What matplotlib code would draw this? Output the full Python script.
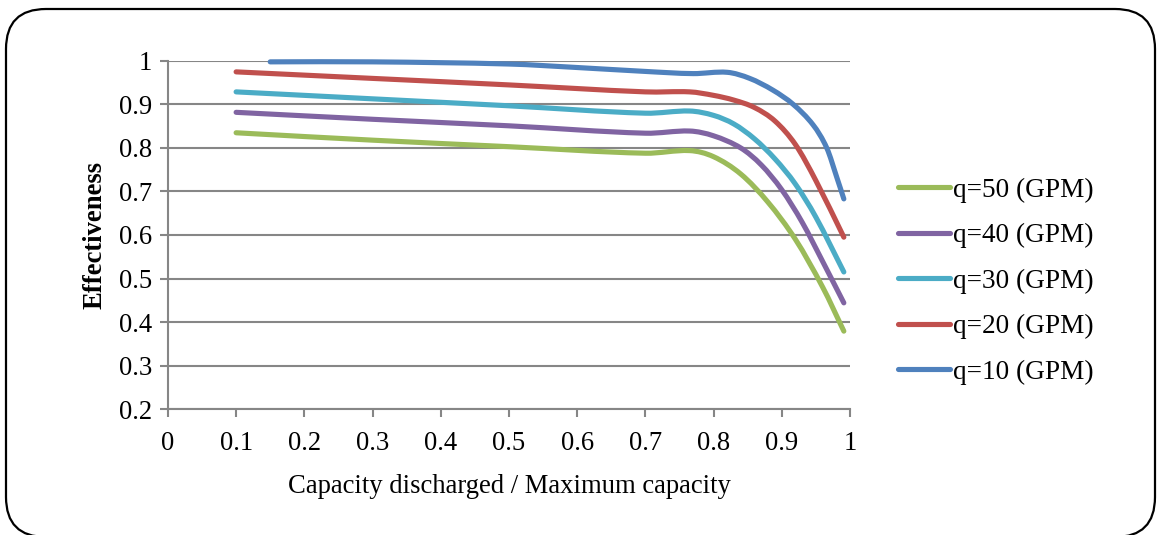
import numpy as np
import matplotlib
matplotlib.use("Agg")
import matplotlib.pyplot as plt
from matplotlib.path import Path
from matplotlib.patches import PathPatch, FancyBboxPatch
from matplotlib.lines import Line2D

# values
x50 = [0.1, 0.3, 0.5, 0.7, 0.765, 0.8, 0.84, 0.88, 0.92, 0.96, 0.991]
q50 = [0.835, 0.818, 0.803, 0.788, 0.794, 0.78, 0.74, 0.675, 0.59, 0.48, 0.379]
x40 = [0.1, 0.3, 0.5, 0.7, 0.765, 0.8, 0.84, 0.87, 0.9, 0.93, 0.96, 0.991]
q40 = [0.882, 0.866, 0.851, 0.834, 0.839, 0.828, 0.80, 0.761, 0.704, 0.629, 0.539, 0.444]
x30 = [0.1, 0.3, 0.5, 0.7, 0.765, 0.8, 0.83, 0.86, 0.89, 0.92, 0.95, 0.991]
q30 = [0.929, 0.913, 0.897, 0.88, 0.885, 0.875, 0.855, 0.821, 0.775, 0.717, 0.641, 0.515]
x20 = [0.1, 0.3, 0.5, 0.7, 0.765, 0.8, 0.83, 0.86, 0.89, 0.92, 0.95, 0.991]
q20 = [0.975, 0.96, 0.945, 0.929, 0.929, 0.921, 0.91, 0.893, 0.862, 0.808, 0.725, 0.595]
x10 = [0.15, 0.3, 0.5, 0.6, 0.7, 0.77, 0.82, 0.853, 0.887, 0.917, 0.946, 0.966, 0.981, 0.991]
q10 = [0.998, 0.998, 0.993, 0.985, 0.976, 0.971, 0.974, 0.960, 0.933, 0.9, 0.853, 0.8, 0.731, 0.683]

labels = ["q=50 (GPM)", "q=40 (GPM)", "q=30 (GPM)", "q=20 (GPM)", "q=10 (GPM)"]
colors = ["#9BBB59", "#8064A2", "#4BACC6", "#C0504D", "#4F81BD"]
series = [(x50, q50), (x40, q40), (x30, q30), (x20, q20), (x10, q10)]

plt.rcParams['font.family'] = ['Liberation Serif', 'DejaVu Serif']
plt.rcParams['font.size'] = 19.2


def smooth_path(xs, ys):
    # smoothed line like excel: cubic bezier segments through the points
    xs = np.asarray(xs, float)
    ys = np.asarray(ys, float)
    n = len(xs)
    m = np.empty(n)
    m[0] = (ys[1] - ys[0]) / (xs[1] - xs[0])
    m[-1] = (ys[-1] - ys[-2]) / (xs[-1] - xs[-2])
    m[1:-1] = (ys[2:] - ys[:-2]) / (xs[2:] - xs[:-2])
    verts = [(xs[0], ys[0])]
    codes = [Path.MOVETO]
    for i in range(n - 1):
        h = (xs[i + 1] - xs[i]) / 3
        verts += [(xs[i] + h, ys[i] + m[i] * h),
                  (xs[i + 1] - h, ys[i + 1] - m[i + 1] * h),
                  (xs[i + 1], ys[i + 1])]
        codes += [Path.CURVE4] * 3
    return Path(verts, codes)


fig = plt.figure(figsize=(11.58, 5.35), dpi=100)
ax = fig.add_axes([0.145, 0.2355, 0.589, 0.6505])

for (xs, ys), c in zip(series, colors):
    ax.add_patch(PathPatch(smooth_path(xs, ys), fill=False, ec=c, lw=3.7,
                           capstyle='round', joinstyle='round', clip_on=False))

ax.set_xlim(0, 1)
ax.set_ylim(0.2, 1)
ax.set_xticks(np.arange(0, 1.01, 0.1))
ax.set_yticks(np.arange(0.2, 1.01, 0.1))
ax.set_xticklabels(["0", "0.1", "0.2", "0.3", "0.4", "0.5", "0.6", "0.7", "0.8", "0.9", "1"])
ax.set_yticklabels(["0.2", "0.3", "0.4", "0.5", "0.6", "0.7", "0.8", "0.9", "1"])
ax.grid(axis='y', color='#868686', lw=1.5)
ax.set_axisbelow(True)
for s in ['top', 'right']:
    ax.spines[s].set_visible(False)
for s in ['left', 'bottom']:
    ax.spines[s].set_color('#868686')
    ax.spines[s].set_linewidth(1.5)
ax.tick_params(axis='both', color='#868686', width=1.5, length=5.5)
ax.tick_params(axis='x', pad=10)
ax.tick_params(axis='y', pad=6)

ax.set_xlabel("Capacity discharged / Maximum capacity", labelpad=13)
ax.set_ylabel("Effectiveness", fontweight='bold', labelpad=8)

handles = [Line2D([], [], color=c, lw=3.7, solid_capstyle='round') for c in colors]
fig.legend(handles, labels, loc='upper left', bbox_to_anchor=(0.7755, 0.668),
           frameon=False, handlelength=1.9, handletextpad=0.11, labelspacing=0.75,
           borderaxespad=0, borderpad=0, fontsize=19.6)

box = FancyBboxPatch((0.06, -0.02), 11.49, 5.28,
                     boxstyle="round,pad=0,rounding_size=0.4",
                     transform=fig.dpi_scale_trans, fc='none', ec='black', lw=1.6,
                     clip_on=False)
fig.add_artist(box)

fig.savefig("out.png", dpi=100)
